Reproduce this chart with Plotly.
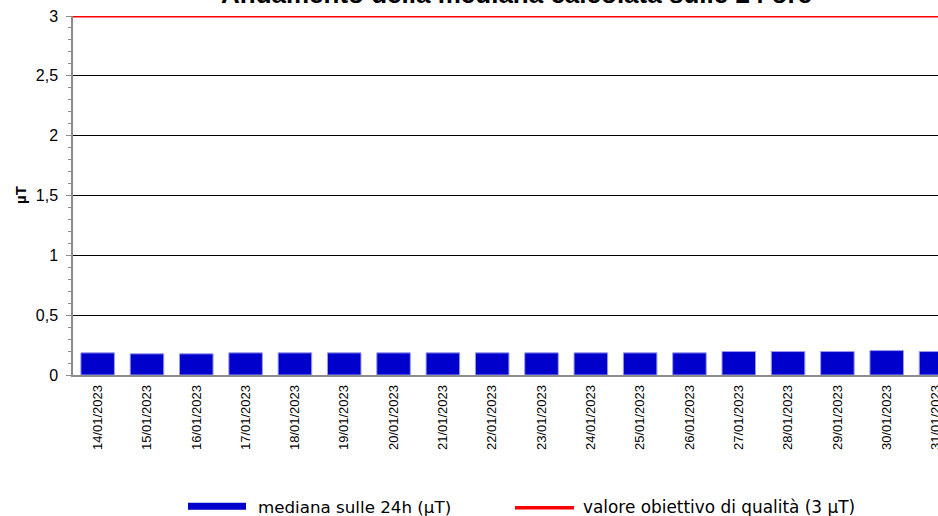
import plotly.graph_objects as go

dates = ["14/01/2023", "15/01/2023", "16/01/2023", "17/01/2023", "18/01/2023",
         "19/01/2023", "20/01/2023", "21/01/2023", "22/01/2023", "23/01/2023",
         "24/01/2023", "25/01/2023", "26/01/2023", "27/01/2023", "28/01/2023",
         "29/01/2023", "30/01/2023", "31/01/2023"]
median_24h = [0.185, 0.177, 0.177, 0.185, 0.185, 0.185, 0.185, 0.185, 0.185,
              0.185, 0.185, 0.185, 0.185, 0.196, 0.196, 0.196, 0.204, 0.196]
quality_target = 3
y_ticks = [0, 0.5, 1, 1.5, 2, 2.5, 3]

W, H = 938, 516
L, R, T, B = 73, 0, 15.5, 140.5
pw = W - L - R
ph = H - T - B


def px(x):
    return (x - L) / pw


def py(y):
    return (H - B - y) / ph


fig = go.Figure()
fig.add_trace(go.Bar(
    x=dates, y=median_24h,
    marker=dict(color="#0000CC", line=dict(color="#9a9aee", width=1)),
    showlegend=False,
))

fig.add_shape(type="line", xref="paper", yref="y", x0=0, x1=1,
              y0=quality_target, y1=quality_target,
              line=dict(color="#FF0000", width=3), layer="above")

# custom legend
fig.add_shape(type="rect", xref="paper", yref="paper",
              x0=px(188), x1=px(246), y0=py(510.5), y1=py(503.5),
              fillcolor="#0000CC", line=dict(width=0))
fig.add_shape(type="line", xref="paper", yref="paper",
              x0=px(515), x1=px(574), y0=py(508.5), y1=py(508.5),
              line=dict(color="#FF0000", width=3.5))
fig.add_annotation(text="mediana sulle 24h (µT)", xref="paper", yref="paper",
                   x=px(256), y=py(507.5), xanchor="left", yanchor="middle",
                   showarrow=False, font=dict(family="DejaVu Sans", size=16.7, color="#000"))
fig.add_annotation(text="valore obiettivo di qualità (3 µT)", xref="paper", yref="paper",
                   x=px(581), y=py(507.5), xanchor="left", yanchor="middle",
                   showarrow=False, font=dict(family="DejaVu Sans", size=16.9, color="#000"))

# y axis title
fig.add_annotation(text="<b>µT</b>", xref="paper", yref="paper",
                   x=px(20), y=py(195), xanchor="center", yanchor="middle",
                   textangle=-90, showarrow=False,
                   font=dict(family="Liberation Sans", size=15, color="#000"))

# title (cut off at top, as in the reference)
fig.add_annotation(text="<b>Andamento della mediana calcolata sulle 24 ore</b>",
                   xref="paper", yref="paper", x=px(516), y=py(10),
                   xanchor="center", yanchor="bottom", showarrow=False,
                   font=dict(family="Liberation Sans", size=26, color="#000"))

fig.update_layout(
    width=W, height=H,
    margin=dict(l=L, r=R, t=T, b=B, pad=0),
    paper_bgcolor="white", plot_bgcolor="white",
    separators=",.",
    bargap=0.32,
    font=dict(family="Liberation Sans", color="#000"),
    showlegend=False,
)
fig.update_xaxes(
    type="category", range=[-0.5, 17.04],
    showline=True, linecolor="#8c8c8c", linewidth=1.5,
    showgrid=False, ticks="", tickangle=-90,
    ticklabelstandoff=3,
    tickfont=dict(family="Liberation Sans", size=13, color="#000"),
    automargin=False,
)
fig.update_yaxes(
    range=[0, 3], tickvals=y_ticks,
    showline=True, linecolor="#8c8c8c", linewidth=1.5,
    showgrid=True, gridcolor="#000000", gridwidth=1,
    zeroline=False,
    ticks="outside", ticklen=5, tickcolor="#8c8c8c",
    ticklabelstandoff=5,
    minor=dict(dtick=0.1, ticks="outside", ticklen=3, tickcolor="#8c8c8c", showgrid=False),
    tickfont=dict(family="Liberation Sans", size=16, color="#000"),
    automargin=False,
)

fig.write_html("out.html", config={"displayModeBar": False},
               post_script="document.body.style.margin='0';")
